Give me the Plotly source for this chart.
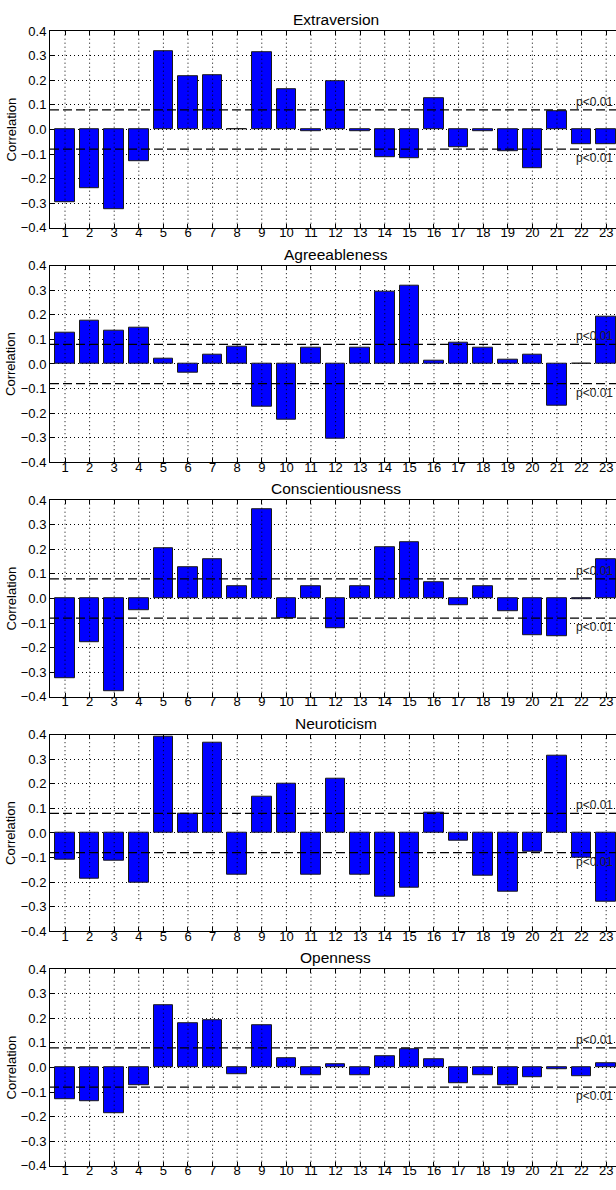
import plotly.graph_objects as go
from plotly.subplots import make_subplots

# Item numbers on the x axis
items = list(range(1, 24))

# Panel titles (Big Five traits)
traits = ["Extraversion", "Agreeableness", "Conscientiousness", "Neuroticism", "Openness"]

# Correlation of each item with the trait
extraversion = [-0.295, -0.240, -0.325, -0.128, 0.317, 0.215, 0.221, 0.002, 0.315, 0.163,
                -0.008, 0.198, -0.009, -0.114, -0.117, 0.128, -0.071, -0.008, -0.089, -0.159,
                0.074, -0.059, -0.059]
agreeableness = [0.126, 0.176, 0.135, 0.147, 0.023, -0.037, 0.037, 0.071, -0.175, -0.228,
                 0.068, -0.305, 0.067, 0.295, 0.317, 0.012, 0.087, 0.068, 0.017, 0.036,
                 -0.172, 0.002, 0.194]
conscientiousness = [-0.323, -0.178, -0.379, -0.048, 0.206, 0.126, 0.159, 0.051, 0.362, -0.079,
                     0.051, -0.120, 0.049, 0.208, 0.231, 0.065, -0.028, 0.049, -0.052, -0.150,
                     -0.155, -0.002, 0.158]
neuroticism = [-0.109, -0.186, -0.113, -0.203, 0.391, 0.078, 0.369, -0.170, 0.147, 0.200,
               -0.171, 0.220, -0.168, -0.261, -0.223, 0.082, -0.031, -0.174, -0.238, -0.078,
               0.313, -0.101, -0.279]
openness = [-0.128, -0.138, -0.185, -0.074, 0.254, 0.182, 0.193, -0.029, 0.170, 0.038,
            -0.033, 0.015, -0.031, 0.046, 0.074, 0.033, -0.063, -0.030, -0.073, -0.041,
            -0.009, -0.037, 0.019]

series = [extraversion, agreeableness, conscientiousness, neuroticism, openness]

# Y ticks and significance threshold
y_ticks = [-0.4, -0.3, -0.2, -0.1, 0.0, 0.1, 0.2, 0.3, 0.4]
sig_level = 0.08
sig_label = "p<0.01"

W, H = 616, 1190
FONT = "Liberation Sans, Arial, Helvetica, sans-serif"

fig = make_subplots(rows=5, cols=1)

for i, (name, vals) in enumerate(zip(traits, series)):
    r = i + 1
    fig.add_trace(
        go.Bar(
            x=items, y=vals, width=0.8,
            marker=dict(color="#0000ff", line=dict(color="#1a1a1a", width=1)),
            showlegend=False, hoverinfo="x+y",
        ),
        row=r, col=1,
    )

layout_axes = {}
for i in range(5):
    n = "" if i == 0 else str(i + 1)
    top_px = 24.5 + 237.5 * i
    bot_px = top_px + 199
    layout_axes["xaxis" + n] = dict(
        domain=[0, 1], range=[0.39, 23.40],
        tickmode="array", tickvals=items, ticktext=[str(v) for v in items],
        showgrid=False, zeroline=False,
        showline=True, linecolor="black", linewidth=1, mirror="ticks",
        ticks="inside", ticklen=4, tickcolor="black",
        ticklabelstandoff=-7,
        tickfont=dict(family=FONT, size=13, color="black"),
        anchor="y" + n,
    )
    layout_axes["yaxis" + n] = dict(
        domain=[1 - bot_px / H, 1 - top_px / H], range=[-0.4, 0.4],
        tickmode="array", tickvals=y_ticks, tickformat=".1f",
        showgrid=True, gridcolor="black", gridwidth=1, griddash="1px,3px",
        zeroline=False,
        showline=True, linecolor="black", linewidth=1, mirror=False,
        ticks="inside", ticklen=4, tickcolor="black",
        tickfont=dict(family=FONT, size=13, color="black"),
        anchor="x" + n,
    )

fig.update_layout(**layout_axes)

shapes = []
annotations = []
for i, name in enumerate(traits):
    n = "" if i == 0 else str(i + 1)
    xr, yr = "x" + n, "y" + n
    # vertical dotted grid drawn over the bars
    for xv in items:
        shapes.append(dict(
            type="line", xref=xr, yref=yr + " domain", x0=xv, x1=xv, y0=0, y1=1,
            line=dict(color="black", width=1, dash="1px,3px"), layer="above",
        ))
    # significance thresholds
    for lvl in (sig_level, -sig_level):
        shapes.append(dict(
            type="line", xref=xr + " domain", yref=yr, x0=0, x1=1, y0=lvl, y1=lvl,
            line=dict(color="black", width=1.2, dash="9px,4px"), layer="above",
        ))
    annotations.append(dict(
        text=sig_label, xref=xr, yref=yr, x=21.7, y=sig_level,
        xanchor="left", yanchor="bottom", showarrow=False, yshift=-1,
        font=dict(family=FONT, size=12, color="#222"),
    ))
    annotations.append(dict(
        text=sig_label, xref=xr, yref=yr, x=21.7, y=-sig_level,
        xanchor="left", yanchor="top", showarrow=False, yshift=0,
        font=dict(family=FONT, size=12, color="#222"),
    ))
    # panel title
    annotations.append(dict(
        text=name, xref=xr, yref=yr + " domain", x=12.0, y=1,
        xanchor="center", yanchor="bottom", showarrow=False, yshift=1,
        font=dict(family=FONT, size=15.5, color="black"),
    ))
    # y-axis label
    annotations.append(dict(
        text="Correlation", xref="paper", yref=yr + " domain", x=(11 - 50) / 566, y=0.5,
        xanchor="center", yanchor="middle", textangle=-90, showarrow=False,
        font=dict(family=FONT, size=13, color="black"),
    ))

fig.update_layout(
    width=W, height=H,
    margin=dict(l=50, r=0, t=0, b=0),
    paper_bgcolor="white", plot_bgcolor="white",
    shapes=shapes, annotations=annotations,
    bargap=0,
)

fig.write_html("out.html")
